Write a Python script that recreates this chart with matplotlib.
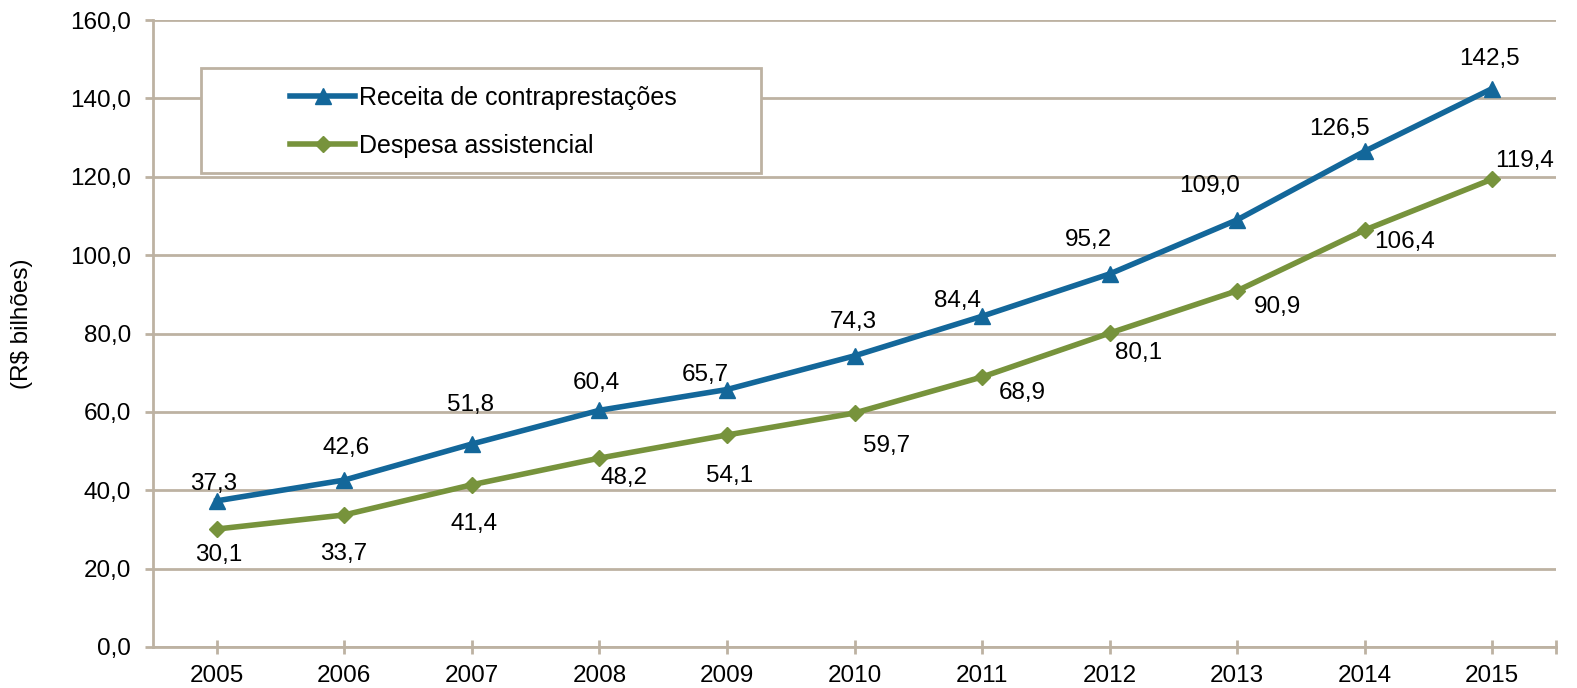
import matplotlib.pyplot as plt
from matplotlib.patches import Rectangle

plt.rcParams['font.family'] = ['Liberation Sans', 'DejaVu Sans']

anos = ['2005', '2006', '2007', '2008', '2009', '2010', '2011', '2012', '2013', '2014', '2015']
receita = [37.3, 42.6, 51.8, 60.4, 65.7, 74.3, 84.4, 95.2, 109.0, 126.5, 142.5]
despesa = [30.1, 33.7, 41.4, 48.2, 54.1, 59.7, 68.9, 80.1, 90.9, 106.4, 119.4]

# deslocamento dos rotulos em pixels (dx, dy)
off_receita = [(-3, 17), (2, 32), (-1, 39), (-3, 27), (-22, 15), (-1, 34),
               (-25, 15), (-21, 34), (-28, 34), (-25, 22), (-3, 30)]
off_despesa = [(2, -26), (-1, -39), (2, -39), (25, -20), (3, -41), (32, -33),
               (40, -16), (29, -20), (40, -16), (40, -12), (32, 18)]

azul = '#13679A'
verde = '#77933C'
cinza = '#BDB2A2'
fs = 17.5

W, H = 1577, 688
fig = plt.figure(figsize=(W/100, H/100), dpi=100)
ax = fig.add_axes([153/W, 1-647/H, (1556-153)/W, (647-20)/H])

x = list(range(len(anos)))
ax.plot(x, receita, color=azul, lw=4, marker='^', ms=11, label='Receita de contraprestações', zorder=3)
ax.plot(x, despesa, color=verde, lw=4, marker='D', ms=8, label='Despesa assistencial', zorder=3)

for i in x:
    ax.annotate(f'{receita[i]:.1f}'.replace('.', ','), (i, receita[i]), xytext=off_receita[i],
                textcoords='offset pixels', ha='center', va='center', fontsize=fs)
    ax.annotate(f'{despesa[i]:.1f}'.replace('.', ','), (i, despesa[i]), xytext=off_despesa[i],
                textcoords='offset pixels', ha='center', va='center', fontsize=fs)

ax.set_xlim(-0.5, len(anos) - 0.5)
ax.set_ylim(0, 160)
ax.set_yticks(range(0, 161, 20))
ax.set_yticklabels([f'{v:.1f}'.replace('.', ',') for v in range(0, 161, 20)], fontsize=fs)
ax.set_xticks(x)
ax.set_xticklabels(anos, fontsize=fs)
ax.set_xticks([len(anos) - 0.5], minor=True)

ax.grid(axis='y', color=cinza, lw=2)
ax.set_axisbelow(True)
for s in ['top', 'right']:
    ax.spines[s].set_visible(False)
for s in ['left', 'bottom']:
    ax.spines[s].set_color(cinza)
    ax.spines[s].set_linewidth(2)
ax.tick_params(axis='y', color=cinza, width=2, length=6, pad=10)
ax.tick_params(axis='x', which='both', color=cinza, width=2, length=10, direction='inout', pad=8)

fig.text(22/W, 1-324/H, r'(R\$ bilhões)', rotation=90, ha='center', va='center', fontsize=fs)

# caixa da legenda
fig.patches.append(Rectangle((201/W, 1-173/H), (761-201)/W, (173-68)/H, transform=fig.transFigure,
                             facecolor='white', edgecolor=cinza, lw=2, zorder=5))
leg = fig.legend(loc='center left', bbox_to_anchor=(290/W, 1-122/H), fontsize=18, frameon=False,
                 handlelength=2.6, handletextpad=0.15, labelspacing=0.95, borderpad=0, borderaxespad=0)
leg.set_zorder(6)

fig.savefig('out.png', dpi=100)
